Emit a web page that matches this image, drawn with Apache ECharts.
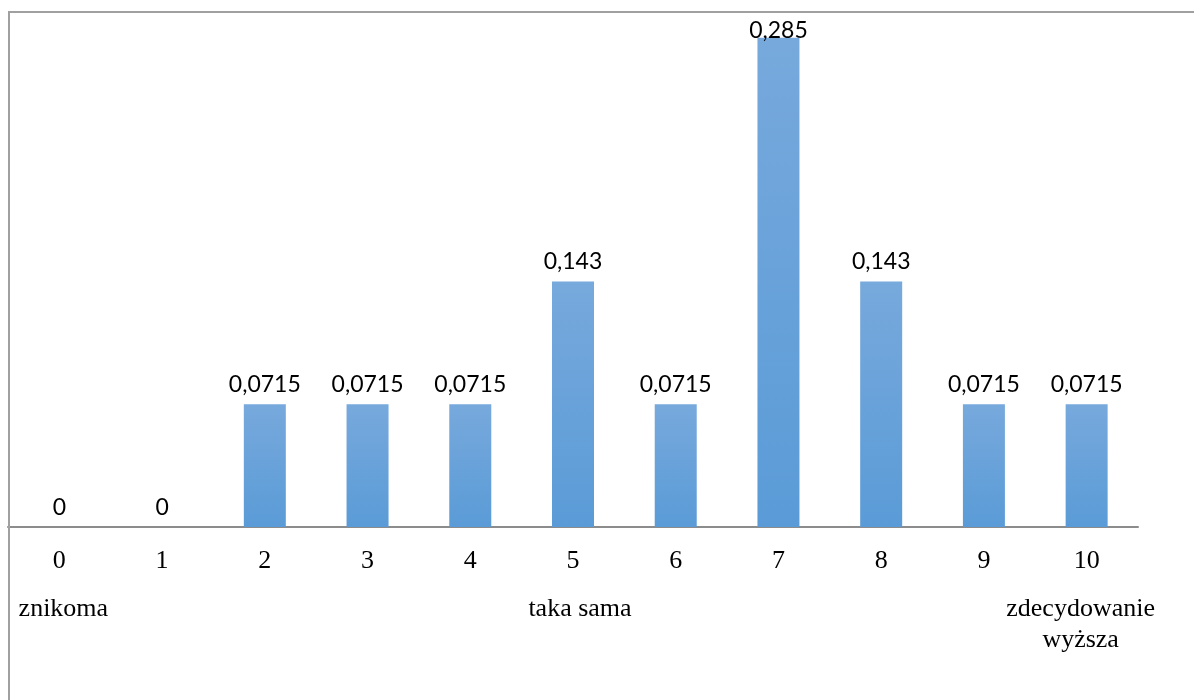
<!DOCTYPE html>
<html>
<head>
<meta charset="utf-8">
<script src="https://cdn.jsdelivr.net/npm/echarts@6/dist/echarts.min.js"></script>
<style>
  html, body { margin: 0; padding: 0; background: #fff; }
  #chart { width: 1194px; height: 700px; }
</style>
</head>
<body>
<div id="chart"></div>
<script>
// Rating scale 0–10 and the share of answers for each point
const categories = ['0', '1', '2', '3', '4', '5', '6', '7', '8', '9', '10'];
const values = [0, 0, 0.0715, 0.0715, 0.0715, 0.143, 0.0715, 0.285, 0.143, 0.0715, 0.0715];
// Verbal anchors printed under selected scale points
const anchors = ['znikoma', '', '', '', '', 'taka sama', '', '', '', '', 'zdecydowanie\nwyższa'];

const fmt = v => String(v).replace('.', ',');

// small horizontal nudges for the anchor captions
const anchorPadding = { 'znikoma': [0, 0, 0, 8], 'taka sama': [0, 0, 0, 14], 'zdecydowanie\nwyższa': [0, 12, 0, 0] };

const chart = echarts.init(document.getElementById('chart'), null, { renderer: 'canvas' });

const barGradient = new echarts.graphic.LinearGradient(0, 0, 0, 1, [
  { offset: 0, color: '#77a9dc' },
  { offset: 1, color: '#5a9bd7' }
]);

chart.setOption({
  animation: false,
  backgroundColor: '#ffffff',
  grid: { left: 8, right: 56, top: 12, bottom: 173, containLabel: false },
  graphic: [{
    type: 'rect',
    shape: { x: 9, y: 12, width: 1300, height: 800 },
    style: { fill: 'none', stroke: '#a0a0a0', lineWidth: 2 },
    z: 100,
    silent: true
  }],
  xAxis: [{
    type: 'category',
    data: categories,
    position: 'bottom',
    axisLine: { show: true, lineStyle: { color: '#8c8c8c', width: 2 } },
    axisTick: { show: false },
    axisLabel: {
      interval: 0,
      margin: 21,
      color: '#000',
      fontFamily: 'Liberation Serif',
      fontSize: 26,
      lineHeight: 26
    }
  }, {
    type: 'category',
    data: anchors.map(a => anchorPadding[a]
      ? { value: a, textStyle: { padding: anchorPadding[a] } }
      : a),
    position: 'bottom',
    axisLine: { show: false },
    axisTick: { show: false },
    axisLabel: {
      interval: 0,
      margin: 67,
      color: '#000',
      fontFamily: 'Liberation Serif',
      fontSize: 26,
      lineHeight: 31,
      align: 'center'
    }
  }],
  yAxis: {
    type: 'value',
    min: 0,
    max: 0.3,
    show: false,
    splitLine: { show: false }
  },
  series: [{
    type: 'bar',
    xAxisIndex: 0,
    data: values.map(v => v === 0.285
      ? { value: v, label: { distance: -4 } }
      : v),
    barWidth: 42,
    itemStyle: { color: barGradient },
    label: {
      show: true,
      position: 'top',
      distance: 8,
      color: '#000',
      fontFamily: 'Lato',
      fontSize: 23,
      formatter: p => fmt(p.value)
    }
  }]
});
</script>
</body>
</html>
